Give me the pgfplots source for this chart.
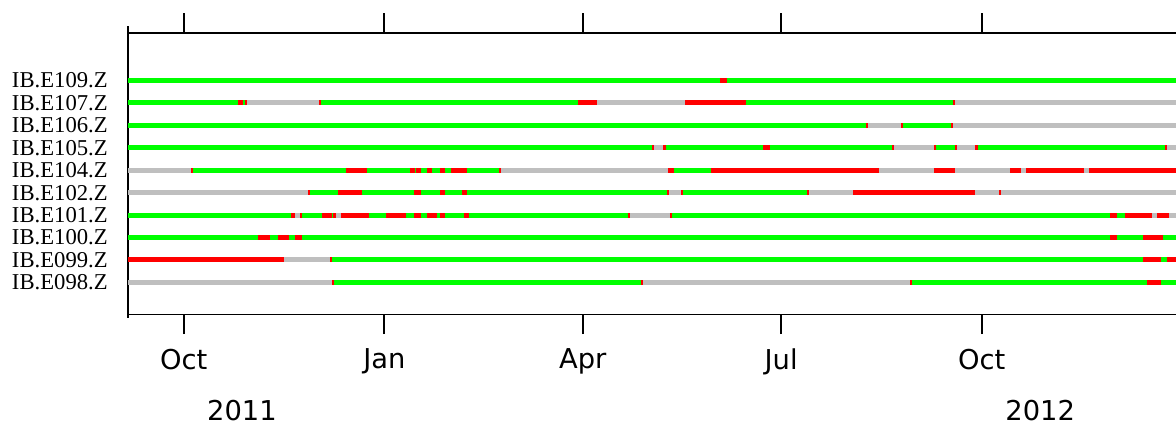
\documentclass[border=0pt]{standalone}
\usepackage{fontspec}
\setmainfont{DejaVu Sans}
\newfontfamily\seriffont{Liberation Serif}
\usepackage{pgfplots}
\usepackage{pgfplotstable}
\pgfplotsset{compat=1.18}
\definecolor{cgreen}{RGB}{0,255,0}
\definecolor{cred}{RGB}{255,0,0}
\definecolor{cgray}{RGB}{191,191,191}

% days since 2011-10-01 ; y = station row
\pgfplotstableread{
x0 x1 y
-25.5 246.0 9
249.2 455.1 9
-25.5 25.0 8
27.2 28.1 8
62.9 180.8 8
257.9 352.8 8
-25.5 312.9 7
329.9 351.9 7
-25.5 214.8 6
221.2 265.7 6
268.9 324.9 6
345.0 353.8 6
364.3 450.1 6
4.2 74.4 5
84.0 103.8 5
106.1 106.5 5
108.8 111.6 5
113.9 117.5 5
119.8 122.6 5
129.9 144.6 5
224.9 241.8 5
57.9 70.7 4
81.7 105.6 4
108.8 117.5 4
119.8 127.6 4
129.9 221.7 4
229.0 285.9 4
-25.5 49.2 3
54.2 63.4 3
68.0 68.4 3
85.0 92.8 3
101.9 105.6 3
108.8 111.6 3
116.1 117.5 3
119.8 128.5 3
130.8 203.8 3
223.9 424.9 3
428.1 431.7 3
-25.5 34.0 2
39.5 43.2 2
48.3 51.0 2
54.2 424.9 2
428.1 440.0 2
449.2 455.1 2
68.0 440.0 1
448.3 451.0 1
68.9 209.7 0
334.0 441.8 0
448.3 455.1 0
}\tgreen

\pgfplotstableread{
x0 x1 y
246.0 249.2 9
25.0 27.2 8
28.1 29.0 8
62.0 62.9 8
180.8 189.5 8
229.9 257.9 8
352.8 353.8 8
312.9 313.9 7
329.0 329.9 7
351.9 352.8 7
214.8 215.7 6
219.8 221.2 6
265.7 268.9 6
324.9 325.8 6
344.1 345.0 6
353.8 354.7 6
362.9 364.3 6
450.1 451.0 6
3.3 4.2 5
74.4 84.0 5
103.8 106.1 5
106.5 108.8 5
111.6 113.9 5
117.5 119.8 5
122.6 129.9 5
144.6 145.5 5
222.1 224.9 5
241.8 318.9 5
344.1 353.8 5
379.0 384.0 5
386.3 412.9 5
415.2 455.1 5
57.0 57.9 4
70.7 81.7 4
105.6 108.8 4
117.5 119.8 4
127.6 129.9 4
221.7 222.6 4
228.1 229.0 4
285.9 286.8 4
307.0 362.9 4
374.0 374.9 4
49.2 51.0 3
53.3 54.2 3
63.4 68.0 3
68.4 69.8 3
72.1 85.0 3
92.8 101.9 3
105.6 108.8 3
111.6 116.1 3
117.5 119.8 3
128.5 130.8 3
203.8 204.7 3
223.0 223.9 3
424.9 428.1 3
431.7 444.1 3
446.4 451.9 3
34.0 39.5 2
43.2 48.3 2
51.0 54.2 2
424.9 428.1 2
440.0 449.2 2
-25.5 46.0 1
67.1 68.0 1
440.0 448.3 1
451.0 455.1 1
68.0 68.9 0
209.7 210.6 0
333.1 334.0 0
441.8 448.3 0
}\tred

\pgfplotstableread{
x0 x1 y
29.0 62.0 8
189.5 229.9 8
353.8 455.1 8
313.9 329.0 7
352.8 455.1 7
215.7 219.8 6
325.8 344.1 6
354.7 362.9 6
451.0 455.1 6
-25.5 3.3 5
145.5 222.1 5
318.9 344.1 5
353.8 379.0 5
384.0 386.3 5
412.9 415.2 5
-25.5 57.0 4
222.6 228.1 4
286.8 307.0 4
362.9 374.0 4
374.9 455.1 4
51.0 53.3 3
69.8 72.1 3
204.7 223.0 3
444.1 446.4 3
451.9 455.1 3
46.0 67.1 1
-25.5 68.0 0
210.6 333.1 0
}\tgray

\begin{document}
\begin{tikzpicture}
\begin{axis}[
  at={(0,0)}, anchor=south west,
  scale only axis, width=785.8pt, height=211.3pt,
  xmin=-25.5, xmax=455.1, ymin=-1.43, ymax=11.12,
  axis x line*=box, axis y line*=left,
  every outer y axis line/.append style={shorten <=-2.5pt, shorten >=-5pt},
  axis line style={line width=1.3pt, black},
  xtick={0,92,183,274,366}, xticklabels={Oct,Jan,Apr,Jul,Oct},
  xtick pos=both, xticklabel pos=lower,
  tick align=outside, major tick length=14.6pt,
  xtick style={line width=1.5pt, black},
  ytick={0,...,9},
  yticklabels={IB.E098.Z,IB.E099.Z,IB.E100.Z,IB.E101.Z,IB.E102.Z,IB.E104.Z,IB.E105.Z,IB.E106.Z,IB.E107.Z,IB.E109.Z},
  ytick style={draw=none},
  yticklabel style={font=\seriffont\fontsize{17}{17}\selectfont, xshift=2.75pt},
  xticklabel style={font=\fontsize{20.5}{20.5}\selectfont, yshift=-7.5pt},
  clip mode=individual,
]
\addplot[draw=cgray, line width=3.75pt, quiver={u=\thisrow{x1}-\thisrow{x0}, v=0}] table[x=x0, y=y] {\tgray};
\addplot[draw=cgreen, line width=3.75pt, quiver={u=\thisrow{x1}-\thisrow{x0}, v=0}] table[x=x0, y=y] {\tgreen};
\addplot[draw=cred, line width=3.75pt, quiver={u=\thisrow{x1}-\thisrow{x0}, v=0}] table[x=x0, y=y] {\tred};
\node[font=\fontsize{20.5}{20.5}\selectfont, inner sep=0pt, anchor=base, yshift=-79.2pt] at (axis cs:26.7,-1.43) {2011};
\node[font=\fontsize{20.5}{20.5}\selectfont, inner sep=0pt, anchor=base, yshift=-79.2pt] at (axis cs:392.8,-1.43) {2012};
\end{axis}
\pgfresetboundingbox
\path[use as bounding box] (-96.15pt,-81.4pt) rectangle (785.8pt,235.9pt);
\end{tikzpicture}
\end{document}
